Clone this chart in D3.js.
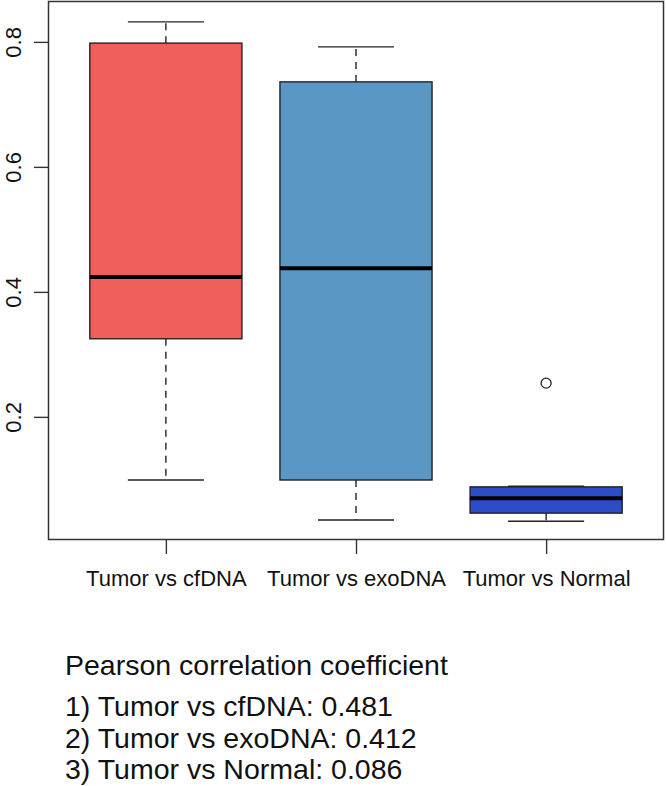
<!DOCTYPE html>
<html>
<head>
<meta charset="utf-8">
<script src="https://cdn.jsdelivr.net/npm/d3@7/dist/d3.min.js"></script>
<style>
  html, body { margin: 0; padding: 0; background: #fff; }
  svg { display: block; font-family: "Liberation Sans", Arial, sans-serif; }
</style>
</head>
<body>
<svg id="chart" width="666" height="786"></svg>
<script>
// ---- data ----
const categories = ["Tumor vs cfDNA", "Tumor vs exoDNA", "Tumor vs Normal"];
const whiskerLow  = [0.099, 0.035, 0.033];
const q1          = [0.325, 0.099, 0.046];
const median      = [0.424, 0.438, 0.070];
const q3          = [0.798, 0.736, 0.088];
const whiskerHigh = [0.832, 0.792, 0.089];
const outliers    = [[], [], [0.254]];
const fills       = ["#F15F5D", "#5B97C4", "#2D4DC8"];
const yTicks      = [0.2, 0.4, 0.6, 0.8];
const pearsonTitle = "Pearson correlation coefficient";
const pearsonLabels = ["1) Tumor vs cfDNA:", "2) Tumor vs exoDNA:", "3) Tumor vs Normal:"];
const pearsonValues = ["0.481", "0.412", "0.086"];

// ---- layout ----
const svg = d3.select("#chart");
const plot = { left: 48, right: 664, top: 0, bottom: 540 };

const x = d3.scaleLinear().domain([0.38, 3.62]).range([plot.left, plot.right]);
const y = d3.scaleLinear().domain([0.003, 0.867]).range([plot.bottom, plot.top]);

const boxHalf = 0.4, capHalf = 0.2;

const g = svg.append("g");

categories.forEach((c, i) => {
  const cx = i + 1;
  const grp = g.append("g");
  // whiskers (dashed)
  grp.append("line")
    .attr("x1", x(cx)).attr("x2", x(cx))
    .attr("y1", y(q3[i])).attr("y2", y(whiskerHigh[i]))
    .attr("stroke", "#222").attr("stroke-width", 1.4).attr("stroke-dasharray", "7,6");
  grp.append("line")
    .attr("x1", x(cx)).attr("x2", x(cx))
    .attr("y1", y(q1[i])).attr("y2", y(whiskerLow[i]))
    .attr("stroke", "#222").attr("stroke-width", 1.4).attr("stroke-dasharray", "7,6");
  // caps
  [whiskerHigh[i], whiskerLow[i]].forEach(v => {
    grp.append("line")
      .attr("x1", x(cx - capHalf)).attr("x2", x(cx + capHalf))
      .attr("y1", y(v)).attr("y2", y(v))
      .attr("stroke", "#222").attr("stroke-width", 1.4);
  });
  // box
  grp.append("rect")
    .attr("x", x(cx - boxHalf)).attr("width", x(cx + boxHalf) - x(cx - boxHalf))
    .attr("y", y(q3[i])).attr("height", y(q1[i]) - y(q3[i]))
    .attr("fill", fills[i]).attr("stroke", "#222").attr("stroke-width", 1.4);
  // median
  grp.append("line")
    .attr("x1", x(cx - boxHalf)).attr("x2", x(cx + boxHalf))
    .attr("y1", y(median[i])).attr("y2", y(median[i]))
    .attr("stroke", "#000").attr("stroke-width", 4);
  // outliers
  outliers[i].forEach(v => {
    grp.append("circle")
      .attr("cx", x(cx)).attr("cy", y(v)).attr("r", 5)
      .attr("fill", "none").attr("stroke", "#222").attr("stroke-width", 1.3);
  });
});

// frame
svg.append("rect")
  .attr("x", plot.left + 0.5).attr("y", 1.5)
  .attr("width", plot.right - plot.left - 1).attr("height", 538)
  .attr("fill", "none").attr("stroke", "#333").attr("stroke-width", 1.5);

// y axis
const yAxis = d3.axisLeft(y).tickValues(yTicks).tickSize(14).tickPadding(8).tickFormat(d3.format(".1f"));
const ya = svg.append("g").attr("transform", `translate(${plot.left},0)`).call(yAxis);
ya.select(".domain").remove();
ya.selectAll(".tick line").attr("stroke", "#333").attr("stroke-width", 1.4);
ya.selectAll(".tick text")
  .attr("font-size", 22).attr("fill", "#111")
  .attr("transform", "rotate(-90)")
  .attr("x", 0).attr("y", -27)
  .attr("dy", 0)
  .attr("text-anchor", "middle");

// x axis
const xAxis = d3.axisBottom(x).tickValues([1, 2, 3]).tickSize(14).tickPadding(16)
  .tickFormat((d) => categories[d - 1]);
const xa = svg.append("g").attr("transform", `translate(0,${plot.bottom})`).call(xAxis);
xa.select(".domain").remove();
xa.selectAll(".tick line").attr("stroke", "#333").attr("stroke-width", 1.4);
xa.selectAll(".tick text").attr("font-size", 22).attr("fill", "#111").attr("dy", "0.71em");

// annotation text
const ann = svg.append("g").attr("font-size", 28.5).attr("fill", "#111");
ann.append("text").attr("x", 65).attr("y", 675).text(pearsonTitle);
pearsonLabels.forEach((t, i) => {
  ann.append("text").attr("x", 65).attr("y", 716 + i * 31.5)
    .text(t + " " + pearsonValues[i]);
});
</script>
</body>
</html>
